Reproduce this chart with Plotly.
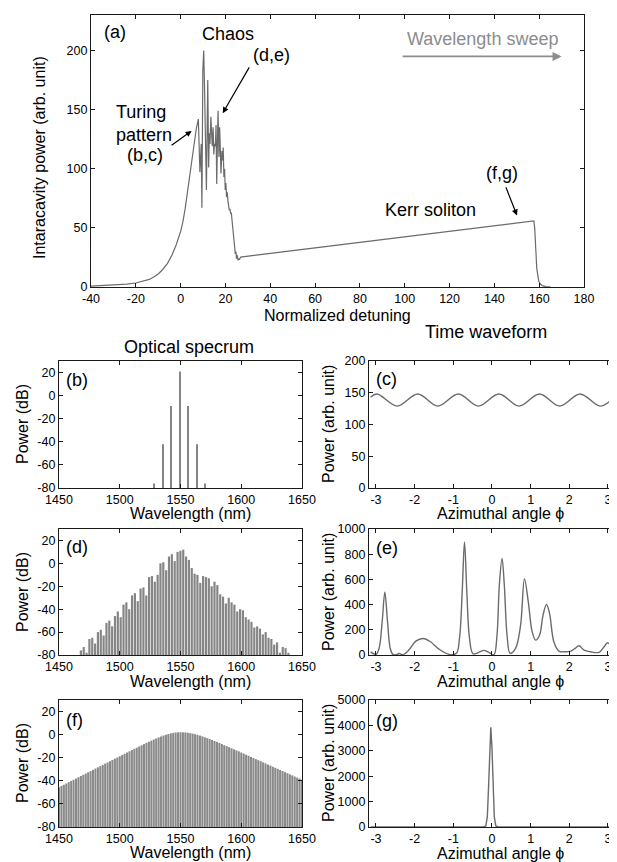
import plotly.graph_objects as go

FONT = "Liberation Sans, Arial, Helvetica, sans-serif"
LINE_GRAY = "#6b6b6b"
BAR_GRAY = "#858585"

# ---------------- Panel (a): intracavity power vs detuning ----------------
detuning = [-40, -36, -32, -28, -24, -20, -17, -14, -12, -10, -8, -6, -4, -2, 0, 1, 2, 3, 4, 5, 6, 7, 7.9,
            8.6, 9.2, 9.5, 9.9, 10.3, 10.7, 10.9, 11.2, 11.5, 12.1, 12.5, 12.8, 13.1, 13.5, 13.8, 14.1,
            14.5, 14.8, 15.1, 15.5, 15.8, 16.1, 16.4, 16.7, 17.1, 17.4, 17.6, 18.0, 18.4, 18.7, 19.0,
            19.3, 19.6, 19.9, 20.2, 20.5, 20.8, 21.1, 21.4, 21.7, 22.0, 22.3, 22.6, 22.9, 23.2, 23.4,
            23.6, 23.8, 24.1, 24.4, 24.7, 24.9, 25.1, 25.3, 25.6, 25.9, 26.2, 26.8,
            157.6, 158.0, 158.3, 158.6, 158.9, 159.3, 159.8, 160.5, 161.4, 163.0, 165.0]
intracavity_power = [0.8, 1.1, 1.4, 1.9, 2.5, 3.4, 4.7, 6.4, 8.4, 11, 14.8, 19.5, 26.5, 35.5, 47, 55, 66, 80, 93, 110, 123, 134, 142,
                     97, 121, 67, 183, 200, 165, 135, 118, 82, 175, 101, 130, 121, 144, 125, 119,
                     135, 112, 121, 119, 137, 87, 120, 149, 110, 135, 124, 96, 115, 107, 118,
                     93, 100, 82, 88, 76, 80, 73, 70, 65, 66, 62, 63, 56, 52, 45,
                     44, 37, 35, 28, 30, 24, 27, 26, 22.5, 24, 23, 25.3,
                     55.8, 50, 42, 28, 16, 9, 5, 2.5, 1.2, 0.4, 0.1]
a_xticks = [-40, -20, 0, 20, 40, 60, 80, 100, 120, 140, 160, 180]
a_xticklabels = ["-40", "-20", "0", "20", "40", "60", "80", "100", "120", "140", "160", "180"]
a_yticks = [0, 50, 100, 150, 200]

# ---------------- Panel (b): Turing pattern spectrum ----------------
turing_wavelength = [1528.5, 1535.5, 1542.5, 1549.5, 1556.5, 1563.5, 1570.5]
turing_power_db = [-76, -42, -9, 21, -9, -42, -76]

# ---------------- Panel (c): Turing pattern waveform ----------------
turing_phi = [-3.14, -2.97, -2.45, -1.92, -1.40, -0.87, -0.35, 0.18, 0.70, 1.23, 1.75, 2.28, 2.80, 3.14]
turing_wave = [143, 148, 129, 148, 129, 148, 129, 148, 129, 148, 129, 148, 129, 142]

# ---------------- Panel (d): chaos spectrum ----------------
chaos_line_start = 1468.0
chaos_line_step = 2.34
chaos_power_db = [-76, -73, -78, -66, -65, -70, -60, -58, -63, -52,
                  -50, -55, -46, -42, -47, -36, -34, -40, -28, -26,
                  -33, -22, -21, -28, -12, -11, -16, -10, 0, 1,
                  -6, 6, 8, 2, 10, 11, 12, 6, 3, -4,
                  -9, -10, -17, -11, -12, -13, -20, -16, -19, -27,
                  -29, -35, -30, -34, -36, -42, -40, -41, -47, -49,
                  -51, -56, -55, -57, -62, -60, -65, -66, -71, -69,
                  -78, -73, -74, -78]
chaos_wavelength = [chaos_line_start + chaos_line_step * i for i in range(len(chaos_power_db))]

# ---------------- Panel (e): chaos waveform ----------------
chaos_phi = [-3.14, -3.05, -3.0, -2.92, -2.84, -2.77, -2.70, -2.63, -2.56, -2.47,
             -2.40, -2.30, -2.15, -1.97, -1.78, -1.59, -1.37, -1.11, -0.92, -0.84,
             -0.77, -0.71, -0.65, -0.58, -0.49, -0.34, -0.21, -0.08, 0.05, 0.13,
             0.19, 0.26, 0.32, 0.39, 0.47, 0.61, 0.74, 0.84, 0.94, 1.04,
             1.13, 1.23, 1.32, 1.41, 1.49, 1.60, 1.73, 1.91, 2.04, 2.15,
             2.25, 2.38, 2.55, 2.77, 2.90, 2.99, 3.10, 3.14]
chaos_wave = [25, 8, 4, 52, 262, 499, 262, 52, 5, 2,
              12, 3, 39, 110, 131, 105, 47, 5, 13, 131,
              499, 898, 499, 131, 10, 21, 37, 21, 2, 157,
              551, 767, 551, 157, 13, 52, 236, 604, 420, 184,
              118, 157, 315, 402, 328, 105, 31, 26, 31, 52,
              73, 39, 26, 21, 66, 97, 66, 47]

# ---------------- Panel (f): soliton spectrum ----------------
soliton_line_start = 1450.0
soliton_line_step = 2.0
soliton_power_db = [-45.5, -44.4, -43.4, -42.3, -41.2, -40.1, -39.1, -38.0, -36.9, -35.8,
                    -34.8, -33.7, -32.6, -31.6, -30.5, -29.4, -28.3, -27.3, -26.2, -25.1,
                    -24.1, -23.0, -21.9, -20.8, -19.8, -18.7, -17.6, -16.6, -15.5, -14.4,
                    -13.4, -12.3, -11.3, -10.2, -9.2, -8.2, -7.1, -6.2, -5.2, -4.2,
                    -3.3, -2.4, -1.6, -0.8, -0.1, 0.5, 1.1, 1.5, 1.8, 2.0,
                    2.1,
                    2.0, 1.9, 1.6, 1.3, 0.9, 0.4, -0.2, -0.8, -1.5, -2.3,
                    -3.0, -3.8, -4.6, -5.5, -6.3, -7.2, -8.1, -9.1, -9.9, -10.9,
                    -11.8, -12.7, -13.6, -14.5, -15.5, -16.4, -17.4, -18.3, -19.3, -20.2,
                    -21.2, -22.1, -23.0, -24.0, -24.9, -25.9, -26.8, -27.8, -28.7, -29.6,
                    -30.6, -31.5, -32.5, -33.4, -34.4, -35.3, -36.3, -37.2, -38.1, -39.1]
soliton_wavelength = [soliton_line_start + soliton_line_step * i for i in range(len(soliton_power_db))]

# ---------------- Panel (g): soliton waveform ----------------
soliton_phi = [-3.14, -0.22, -0.16, -0.12, -0.09, -0.06, -0.03, 0.0, 0.03, 0.06, 0.10, 0.16, 3.14]
soliton_wave = [0, 0, 40, 400, 1500, 3100, 3930, 3100, 1500, 400, 40, 0, 0]

spec_xticks = [1450, 1500, 1550, 1600, 1650]
spec_yticks = [-80, -60, -40, -20, 0, 20]
spec_yticklabels = ["-80", "-60", "-40", "-20", "0", "20"]
spec_floor = -80
phi_ticks = [-3, -2, -1, 0, 1, 2, 3]
phi_ticklabels = ["-3", "-2", "-1", "0", "1", "2", "3"]

# The page body adds an 8 px margin, so the figure is drawn 8 px smaller and
# all layout positions below (given in page pixels) are shifted by it.
OFF = 8
W, H = 617 - OFF, 862 - OFF


def dom_x(l, r):
    return [(l - OFF) / W, (r - OFF) / W]


def dom_y(top, bottom):
    return [1 - (bottom - OFF) / H, 1 - (top - OFF) / H]


fig = go.Figure()

fig.add_trace(go.Scatter(x=detuning, y=intracavity_power, mode="lines",
                         line=dict(color=LINE_GRAY, width=1.2), xaxis="x", yaxis="y"))

fig.add_trace(go.Bar(x=turing_wavelength, y=[p - spec_floor for p in turing_power_db], base=spec_floor,
                     width=0.9, marker=dict(color=BAR_GRAY, line=dict(width=0)), xaxis="x2", yaxis="y2"))
fig.add_trace(go.Scatter(x=turing_phi, y=turing_wave, mode="lines", line=dict(color=LINE_GRAY, width=1.4, shape="spline"),
                         xaxis="x3", yaxis="y3"))
fig.add_trace(go.Bar(x=chaos_wavelength, y=[p - spec_floor for p in chaos_power_db], base=spec_floor,
                     width=1.8, marker=dict(color=BAR_GRAY, line=dict(width=0)), xaxis="x4", yaxis="y4"))
fig.add_trace(go.Scatter(x=chaos_phi, y=chaos_wave, mode="lines", line=dict(color=LINE_GRAY, width=1.4, shape="spline"),
                         xaxis="x5", yaxis="y5"))
fig.add_trace(go.Bar(x=soliton_wavelength, y=[p - spec_floor for p in soliton_power_db], base=spec_floor,
                     width=1.7, marker=dict(color="#8a8a8a", line=dict(width=0)), xaxis="x6", yaxis="y6"))
fig.add_trace(go.Scatter(x=soliton_phi, y=soliton_wave, mode="lines", line=dict(color=LINE_GRAY, width=1.4),
                         xaxis="x7", yaxis="y7"))


def axis(**kw):
    base = dict(showline=True, linecolor="#1a1a1a", linewidth=1.2, mirror="ticks", ticks="inside",
                ticklen=4, tickwidth=1, tickcolor="#1a1a1a", showgrid=False, zeroline=False,
                automargin=False,
                tickfont=dict(size=12.5, color="black", family=FONT), fixedrange=True)
    base.update(kw)
    return base


A_X = dom_x(91, 584)
L_X = dom_x(59, 302)
R_X = dom_x(369, 613)
ROW1 = dom_y(361, 488)
ROW2 = dom_y(529, 655)
ROW3 = dom_y(700, 827)

fig.update_layout(
    width=W, height=H, margin=dict(l=0, r=0, t=0, b=0, autoexpand=False),
    paper_bgcolor="white", plot_bgcolor="white", showlegend=False,
    font=dict(family=FONT, color="black"),
    xaxis=axis(domain=A_X, anchor="y", range=[-40, 180], tickvals=a_xticks, ticktext=a_xticklabels),
    yaxis=axis(domain=dom_y(15, 287), anchor="x", range=[0, 230], tickvals=a_yticks),
    xaxis2=axis(domain=L_X, anchor="y2", range=[1450, 1650], tickvals=spec_xticks),
    yaxis2=axis(domain=ROW1, anchor="x2", range=[-80, 30], tickvals=spec_yticks, ticktext=spec_yticklabels),
    xaxis3=axis(domain=R_X, anchor="y3", range=[-3.18, 3.13], tickvals=phi_ticks, ticktext=phi_ticklabels),
    yaxis3=axis(domain=ROW1, anchor="x3", range=[0, 200], tickvals=[0, 50, 100, 150, 200]),
    xaxis4=axis(domain=L_X, anchor="y4", range=[1450, 1650], tickvals=spec_xticks),
    yaxis4=axis(domain=ROW2, anchor="x4", range=[-80, 30], tickvals=spec_yticks, ticktext=spec_yticklabels),
    xaxis5=axis(domain=R_X, anchor="y5", range=[-3.18, 3.13], tickvals=phi_ticks, ticktext=phi_ticklabels),
    yaxis5=axis(domain=ROW2, anchor="x5", range=[0, 1000], tickvals=[0, 200, 400, 600, 800, 1000]),
    xaxis6=axis(domain=L_X, anchor="y6", range=[1450, 1650], tickvals=spec_xticks),
    yaxis6=axis(domain=ROW3, anchor="x6", range=[-80, 30], tickvals=spec_yticks, ticktext=spec_yticklabels),
    xaxis7=axis(domain=R_X, anchor="y7", range=[-3.18, 3.13], tickvals=phi_ticks, ticktext=phi_ticklabels),
    yaxis7=axis(domain=ROW3, anchor="x7", range=[0, 5000], tickvals=[0, 1000, 2000, 3000, 4000, 5000]),
)

ann = []


def paper_text(text, x, y, size=16, angle=0, color="black"):
    ann.append(dict(text=text, x=(x - OFF) / W, y=1 - (y - OFF) / H, xref="paper", yref="paper", showarrow=False,
                    xanchor="center", yanchor="middle", textangle=angle,
                    font=dict(size=size, color=color, family=FONT)))


# axis titles and column titles (page pixel positions)
paper_text("Normalized detuning", 337, 316, 16)
paper_text("Intaracavity power (arb. unit)", 40, 158, 16, -90)
paper_text("Optical specrum", 189, 347, 18)
paper_text("Time waveform", 486, 332, 18)
for yc in (513, 681, 852):
    paper_text("Wavelength (nm)", 190, yc, 16)
for yc in (513, 681, 853):
    paper_text("Azimuthal angle ϕ", 500, yc, 16)
for yc in (424, 592, 763):
    paper_text("Power (dB)", 22, yc, 16, -90)
for yc in (424, 592, 763):
    paper_text("Power (arb. unit)", 328, yc, 16, -90)

# panel labels
for lab, xr, yr, yv in [("(a)", "x", "y", 0.937), ("(b)", "x2", "y2", 0.85), ("(c)", "x3", "y3", 0.86),
                        ("(d)", "x4", "y4", 0.86), ("(e)", "x5", "y5", 0.853), ("(f)", "x6", "y6", 0.84),
                        ("(g)", "x7", "y7", 0.836)]:
    ann.append(dict(text=lab, xref=xr + " domain", yref=yr + " domain", x=0.022, y=yv, xanchor="left",
                    yanchor="middle", showarrow=False, font=dict(size=18, family=FONT, color="black")))


def data_text(text, x, y, size=18, color="black", align="center", xanchor="center"):
    ann.append(dict(text=text, x=x, y=y, xref="x", yref="y", showarrow=False, xanchor=xanchor, yanchor="middle",
                    align=align, font=dict(size=size, color=color, family=FONT)))


def data_arrow(x0, y0, x1, y1, color="black", width=1.2, size=1.0):
    ann.append(dict(text="", x=x1, y=y1, ax=x0, ay=y0, xref="x", yref="y", axref="x", ayref="y",
                    showarrow=True, arrowhead=2, arrowsize=size, arrowwidth=width, arrowcolor=color))


data_text("Chaos", 21.0, 214)
data_text("(d,e)", 40.5, 196)
data_arrow(31, 187, 18.8, 147)
data_text("Turing<br>pattern", -29.9, 138.6, align="left", xanchor="left")
data_text("(b,c)", -16, 112)
data_arrow(-4.7, 119, 4.9, 132)
data_text("Wavelength sweep", 134.5, 210, 18, color="#8c8c8c")
data_arrow(98.4, 195, 170, 195, color="#8c8c8c", width=1.8, size=1.0)
data_text("Kerr soliton", 111.4, 64.7)
data_text("(f,g)", 143.6, 96.8)
data_arrow(144.9, 85.6, 150.1, 60.5)

fig.update_layout(annotations=ann)
fig.write_html("out.html")
